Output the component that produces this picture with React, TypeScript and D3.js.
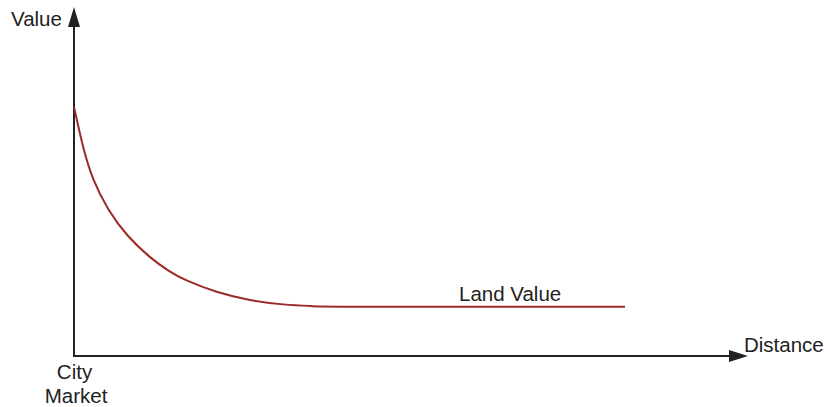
import React from "react";
import * as d3 from "d3";

const distances = [0, 0.66, 1.48, 2.85, 5.18, 8.03, 11.59, 14.63, 16.66, 21.75, 26.83, 31.9, 37, 38, 84];
const landValues = [75.5, 69.5, 62.4, 53.3, 44.2, 36.4, 29.7, 25.5, 23.2, 19.2, 16.8, 15.5, 15.06, 14.94, 14.94];
const xAxisLabel = "Distance";
const yAxisLabel = "Value";
const originLabel = ["City", "Market"];
const seriesLabel = "Land Value";

const W = 830;
const H = 407;

export default function App() {
  const x = d3.scaleLinear().domain([0, 100]).range([74, 730]);
  const y = d3.scaleLinear().domain([0, 100]).range([356, 26]);
  const pts: [number, number][] = distances.map((d, i) => [d, landValues[i]]);
  const line = d3
    .line<[number, number]>()
    .x((d) => x(d[0]))
    .y((d) => y(d[1]))
    .curve(d3.curveBasis);
  const x0 = x(0);
  const y0 = y(0);
  const xEnd = x(100);
  const yEnd = y(100);
  const font = "'Liberation Sans', Arial, Helvetica, sans-serif";
  const axisColor = "#222";
  return (
    <>
      <style>{"body{margin:0}"}</style>
      <svg width={W} height={H} style={{ display: "block", background: "#fff" }}>
        <line x1={x0} y1={y0} x2={x0} y2={yEnd} stroke={axisColor} strokeWidth={2} />
        <path d={`M${x0},${yEnd - 19} L${x0 - 6},${yEnd + 1} L${x0 + 6},${yEnd + 1} Z`} fill={axisColor} />
        <line x1={x0 - 1} y1={y0} x2={xEnd} y2={y0} stroke={axisColor} strokeWidth={2} />
        <path d={`M${xEnd + 18},${y0} L${xEnd - 1},${y0 - 6} L${xEnd - 1},${y0 + 6} Z`} fill={axisColor} />
        <path d={line(pts) || ""} fill="none" stroke="#9b2b27" strokeWidth={2} />
        <g fontFamily={font} fontSize={20.5} fill="#222">
          <text x={11} y={26}>{yAxisLabel}</text>
          <text x={744} y={352}>{xAxisLabel}</text>
          <text x={x(0) + 0.5} y={379} textAnchor="middle">{originLabel[0]}</text>
          <text x={x(0) + 2} y={403} textAnchor="middle">{originLabel[1]}</text>
          <text x={459} y={301}>{seriesLabel}</text>
        </g>
      </svg>
    </>
  );
}
